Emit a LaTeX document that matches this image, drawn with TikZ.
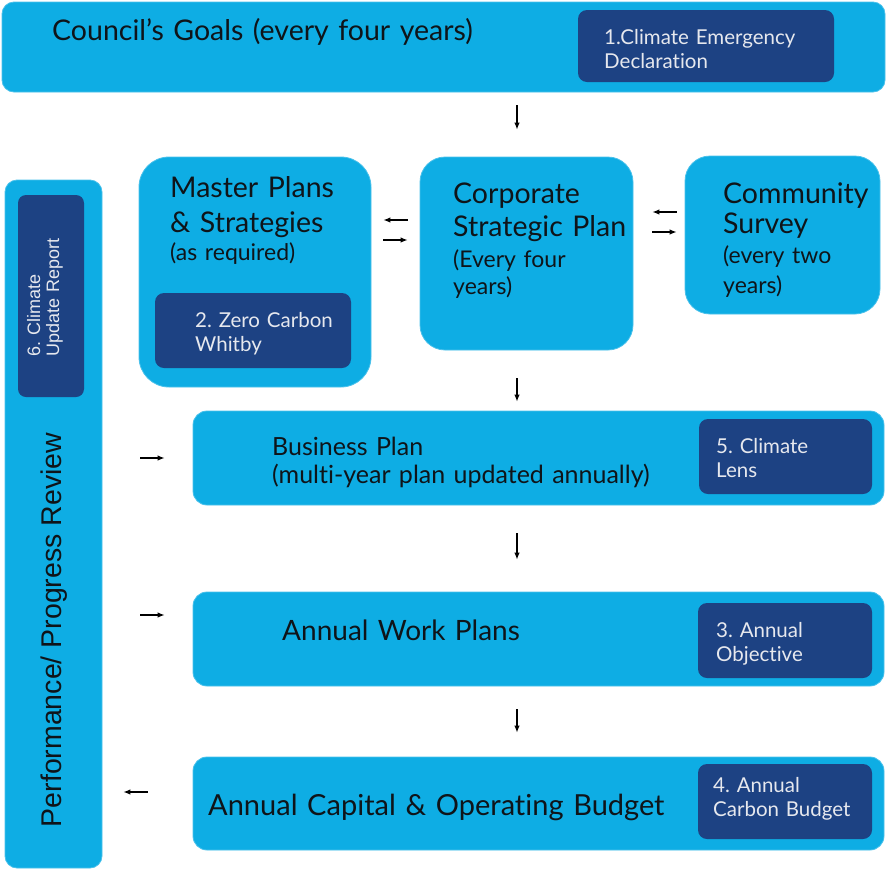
\documentclass[tikz,border=0pt]{standalone}
\usepackage{fontspec}
\setmainfont{Lato}[Ligatures=CommonOff]
\newfontfamily\arialfont{Liberation Sans}
\usetikzlibrary{arrows.meta, calc}
\frenchspacing

\definecolor{skyfill}{RGB}{14,173,228}
\definecolor{navyfill}{RGB}{29,66,131}
\definecolor{palewhite}{RGB}{230,232,238}
\definecolor{inkblack}{RGB}{15,20,25}

\tikzset{
  lightbox/.style={fill=skyfill, draw=skyfill!75!white, line width=0.8pt, inner sep=0pt},
  darkbox/.style={fill=navyfill, rounded corners=9pt, inner sep=0pt},
  boxtxt/.style={anchor=base west, inner sep=0pt, text=inkblack, text width=#1, align=left},
  boxtxt/.default=300pt,
  darktxt/.style={anchor=base west, inner sep=0pt, text=palewhite, text width=260pt, align=left,
    font=\fontsize{20.5}{24}\selectfont},
  arr/.style={-{Latex[length=7pt,width=5.5pt]}, line width=1.2pt, black}
}

\begin{document}
\begin{tikzpicture}[x=1pt,y=-1pt]
\useasboundingbox (0,0) rectangle (887,871);

% boxes
\node[lightbox, rounded corners=12pt, minimum width=883pt, minimum height=90pt] (goals) at (443.5,47) {};
\node[darkbox, minimum width=256pt, minimum height=72pt] (goalsdark) at (706,46) {};

\node[lightbox, rounded corners=12pt, minimum width=97pt, minimum height=688pt] (review) at (53.5,524) {};
\node[darkbox, rounded corners=8pt, minimum width=66pt, minimum height=202pt] (reviewdark) at (51,296) {};

\node[lightbox, rounded corners=30pt, minimum width=232pt, minimum height=230pt] (master) at (255,272) {};
\node[darkbox, minimum width=196pt, minimum height=75pt] (masterdark) at (253,330.5) {};

\node[lightbox, rounded corners=25pt, minimum width=213pt, minimum height=193pt] (corp) at (526.5,253.5) {};
\node[lightbox, rounded corners=25pt, minimum width=195pt, minimum height=158pt] (comm) at (782.5,235) {};

\node[lightbox, rounded corners=14pt, minimum width=691pt, minimum height=94pt] (biz) at (538.5,458) {};
\node[darkbox, minimum width=173pt, minimum height=75pt] (bizdark) at (785.5,456.5) {};

\node[lightbox, rounded corners=14pt, minimum width=691pt, minimum height=94pt] (work) at (538.5,639) {};
\node[darkbox, minimum width=174pt, minimum height=75pt] (workdark) at (785,640.5) {};

\node[lightbox, rounded corners=14pt, minimum width=691pt, minimum height=93pt] (capital) at (538.5,803.5) {};
\node[darkbox, minimum width=174pt, minimum height=75pt] (capitaldark) at (785,801.5) {};

% texts
\node[boxtxt=500pt, font=\fontsize{28.5}{34}\selectfont] (goalstxt) at (52,40) {Council’s Goals (every four years)};
\node[darktxt] (goalsdarktxt) at (604,44) {1.Climate Emergency\\Declaration};

\node[boxtxt, font=\fontsize{28.5}{35}\selectfont] (mastertxt) at (170,197) {Master Plans\\\& Strategies};
\node[boxtxt, font=\fontsize{23}{28}\selectfont] (mastersub) at (170,260) {(as required)};
\node[darktxt] (masterdarktxt) at (195,327) {2. Zero Carbon\\Whitby};

\node[boxtxt, font=\fontsize{28.5}{33}\selectfont] (corptxt) at (453,203) {Corporate\\Strategic Plan};
\node[boxtxt, font=\fontsize{23}{27}\selectfont] (corpsub) at (453,267) {(Every four\\years)};

\node[boxtxt, font=\fontsize{28.5}{30}\selectfont] (commtxt) at (723,203) {Community\\Survey};
\node[boxtxt, font=\fontsize{23}{30}\selectfont] (commsub) at (723,263) {(every two\\years)};

\node[boxtxt=500pt, font=\fontsize{25}{28}\selectfont] (biztxt) at (272,455) {Business Plan\\(multi-year plan updated annually)};
\node[darktxt] (bizdarktxt) at (716,453) {5. Climate\\Lens};

\node[boxtxt, font=\fontsize{28}{33}\selectfont] (worktxt) at (282,640) {Annual Work Plans};
\node[darktxt] (workdarktxt) at (716,637) {3. Annual\\Objective};

\node[boxtxt=500pt, font=\fontsize{29}{33}\selectfont] (capitaltxt) at (208,815) {Annual Capital \& Operating Budget};
\node[darktxt] (capitaldarktxt) at (713,792) {4. Annual\\Carbon Budget};

\node[rotate=90, anchor=base, inner sep=0pt, text=inkblack, font=\arialfont\fontsize{28.5}{34}\selectfont] (reviewtxt) at (61,630) {Performance/ Progress Review};
\node[rotate=90, anchor=base west, inner sep=0pt, text=palewhite, text width=150pt, align=left,
  font=\arialfont\fontsize{18}{19}\selectfont] (reviewdarktxt) at (40,357) {6. Climate\\Update Report};

% arrows
\coordinate (spine) at (517,0);
\coordinate (mcleft) at (0,220);
\coordinate (mcright) at (0,240);
\coordinate (ccleft) at (0,212);
\coordinate (ccright) at (0,232);
\coordinate (bizrow) at (0,458);
\coordinate (workrow) at (0,615);
\coordinate (caprow) at (0,792);

\draw[arr, shorten <=13pt, shorten >=27pt] (goals.south -| spine) -- (corp.north -| spine);
\draw[arr, shorten <=28pt, shorten >=9pt] (corp.south -| spine) -- (biz.north -| spine);
\draw[arr, shorten <=28pt, shorten >=32pt] (biz.south -| spine) -- (work.north -| spine);
\draw[arr, shorten <=23pt, shorten >=24pt] (work.south -| spine) -- (capital.north -| spine);

\draw[arr, shorten <=12pt, shorten >=12pt] (corp.west |- mcleft) -- (master.east |- mcleft);
\draw[arr, shorten <=12pt, shorten >=12pt] (master.east |- mcright) -- (corp.west |- mcright);
\draw[arr, shorten <=8pt, shorten >=19pt] (comm.west |- ccleft) -- (corp.east |- ccleft);
\draw[arr, shorten <=19pt, shorten >=8pt] (corp.east |- ccright) -- (comm.west |- ccright);

\draw[arr, shorten <=38pt, shorten >=28pt] (review.east |- bizrow) -- (biz.west |- bizrow);
\draw[arr, shorten <=38pt, shorten >=28pt] (review.east |- workrow) -- (work.west |- workrow);
\draw[arr, shorten <=45pt, shorten >=21pt] (capital.west |- caprow) -- (review.east |- caprow);

\end{tikzpicture}
\end{document}
